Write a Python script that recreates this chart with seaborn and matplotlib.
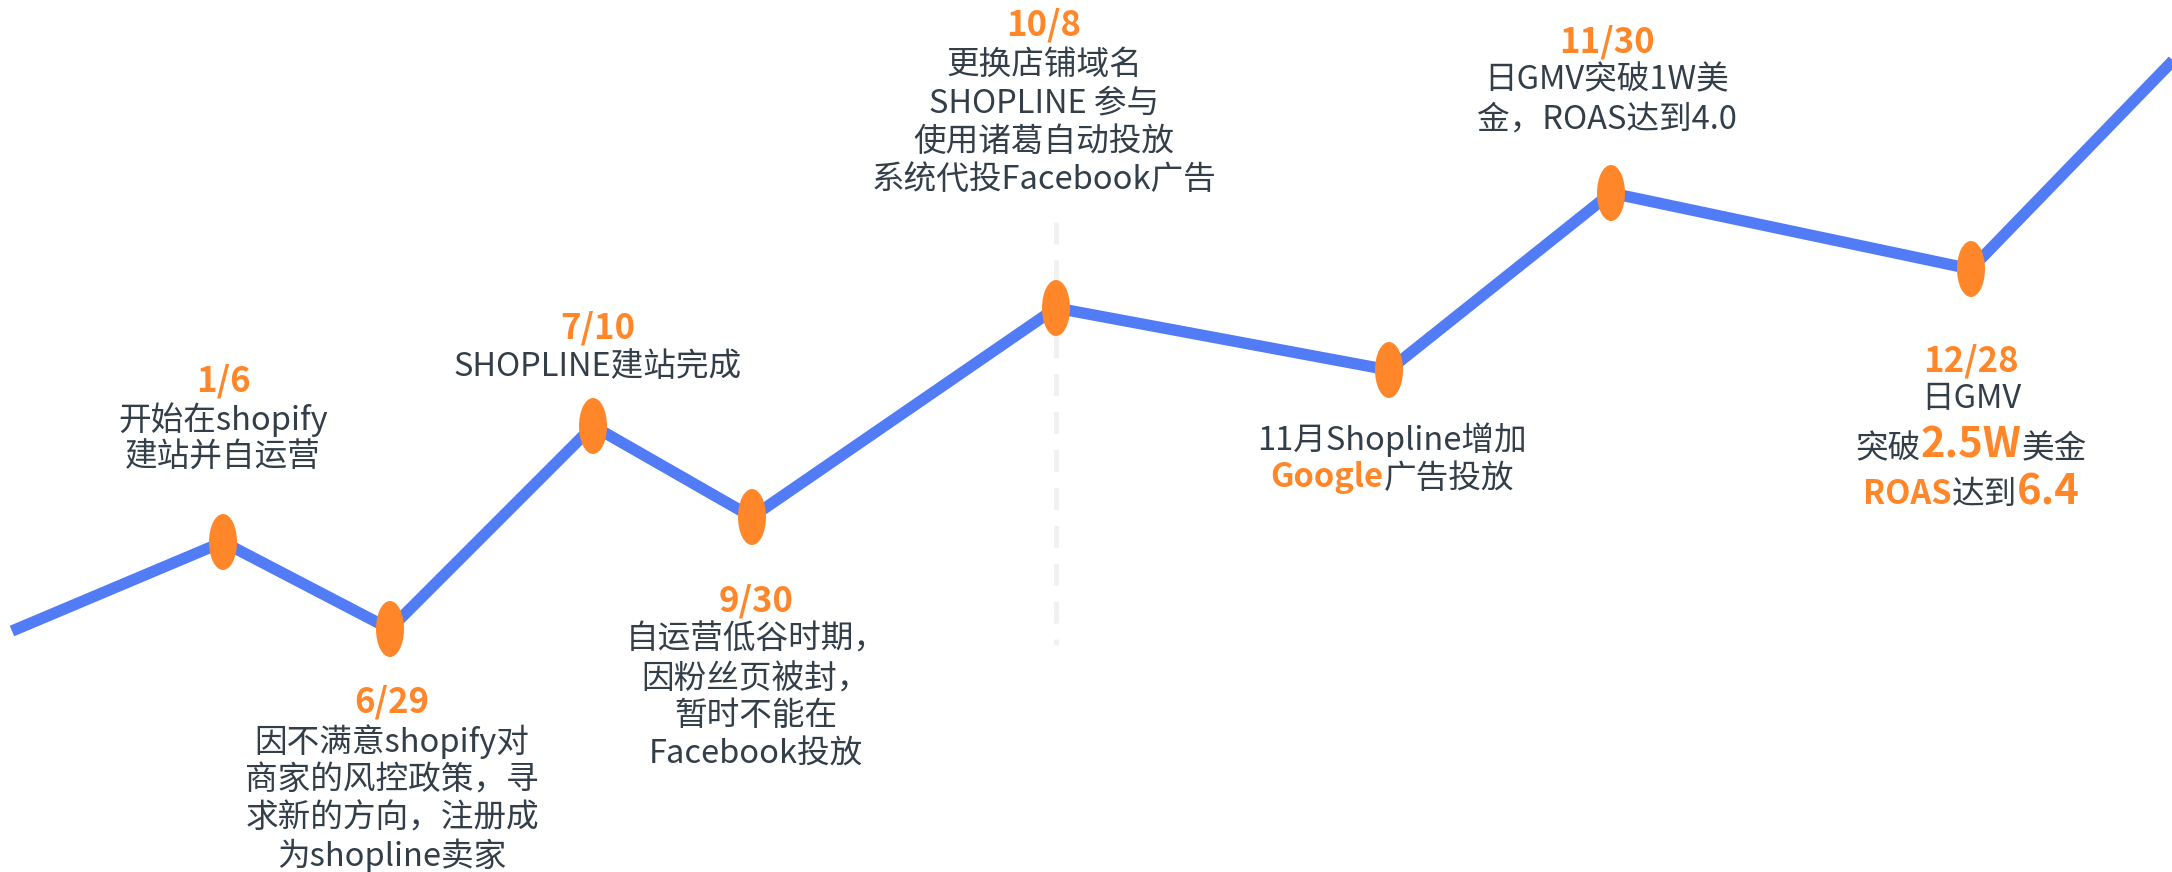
import numpy as np
import matplotlib
matplotlib.use("Agg")
import matplotlib.pyplot as plt
import seaborn as sns
from matplotlib.path import Path
from matplotlib.offsetbox import TextArea, HPacker, AnnotationBbox

# Timeline points (x position, growth level).
x_pos = [12, 223, 390, 593, 752, 1056, 1389, 1611, 1971, 2190]
level = [241, 330, 243, 446, 355, 564, 502, 679, 603, 829]
milestone_idx = [1, 2, 3, 4, 5, 6, 7, 8]

dates = ["1/6", "6/29", "7/10", "9/30", "10/8", "", "11/30", "12/28"]

# note lines: list of segments (text, style); n = normal, o = orange bold, O = big orange bold
notes = [
    [[("开始在shopify", "n")], [("建站并自运营", "n")]],
    [[("因不满意shopify对", "n")], [("商家的风控政策，寻", "n")],
     [("求新的方向，注册成", "n")], [("为shopline卖家", "n")]],
    [[("SHOPLINE建站完成", "n")]],
    [[("自运营低谷时期，", "n")], [("因粉丝页被封，", "n")],
     [("暂时不能在", "n")], [("Facebook投放", "n")]],
    [[("更换店铺域名", "n")], [("SHOPLINE 参与", "n")],
     [("使用诸葛自动投放", "n")], [("系统代投Facebook广告", "n")]],
    [[("11月Shopline增加", "n")], [("Google", "o"), ("广告投放", "n")]],
    [[("日GMV突破1W美", "n")], [("金，ROAS达到4.0", "n")]],
    [[("日GMV", "n")], [("突破", "n"), ("2.5W", "O"), ("美金", "n")],
     [("ROAS", "o"), ("达到", "n"), ("6.4", "O")]],
]

# label layout: centre x, y of date, y of each note line (pixels from top)
label_x = [223, 392, 598, 756, 1044, 1392, 1607, 1971]
date_y = [381, 702, 328, 601, 25, None, 42, 361]
line_y = [
    [420, 458],
    [742, 780, 818, 856],
    [367],
    [640, 679, 716, 755],
    [65, 103, 142, 180],
    [440, 478],
    [80, 119],
    [399, 446, 492],
]

W, H = 2172, 872
BLUE = "#527CF6"
ORANGE = "#FF8629"
DARK = "#333E49"

sns.set_theme(style="white")
plt.rcParams['font.family'] = ['Noto Sans CJK SC', 'DejaVu Sans']
plt.rcParams['lines.scale_dashes'] = False

fig = plt.figure(figsize=(W / 100, H / 100), dpi=100)
ax = fig.add_axes([0, 0, 1, 1])
ax.set_xlim(0, W)
ax.set_ylim(0, H)
ax.axis("off")

# dashed divider at the 10/8 milestone
ax.plot([x_pos[5], x_pos[5]], [H - 222, H - 645], color="#F1F1F1", lw=3.6,
        dashes=(15.8, 11.5), zorder=1)

sns.lineplot(x=x_pos, y=level, sort=False, color=BLUE, linewidth=8.2,
             ax=ax, zorder=2, solid_capstyle="butt", solid_joinstyle="round")

circ = Path.unit_circle()
ellipse = Path(circ.vertices * np.array([0.5, 1.0]), circ.codes)
sns.scatterplot(x=[x_pos[i] for i in milestone_idx], y=[level[i] for i in milestone_idx],
                marker=ellipse, s=1625, color=ORANGE, edgecolor="none", linewidth=0,
                ax=ax, zorder=3)

styles = {
    "n": dict(color=DARK, fontsize=23.5, fontweight="normal"),
    "o": dict(color=ORANGE, fontsize=23.5, fontweight="bold"),
    "O": dict(color=ORANGE, fontsize=30, fontweight="bold"),
    "d": dict(color=ORANGE, fontsize=25, fontweight="bold"),
}


def put_line(x, y, segments):
    boxes = [TextArea(t, textprops=styles[st]) for t, st in segments]
    pack = HPacker(children=boxes, align="baseline", pad=0, sep=0)
    ab = AnnotationBbox(pack, (x, H - y), frameon=False, box_alignment=(0.5, 0.5),
                        pad=0, zorder=4)
    ax.add_artist(ab)


for k in range(len(notes)):
    if dates[k]:
        put_line(label_x[k], date_y[k], [(dates[k], "d")])
    for segs, yy in zip(notes[k], line_y[k]):
        put_line(label_x[k], yy, segs)

fig.savefig("out.png", dpi=100)
